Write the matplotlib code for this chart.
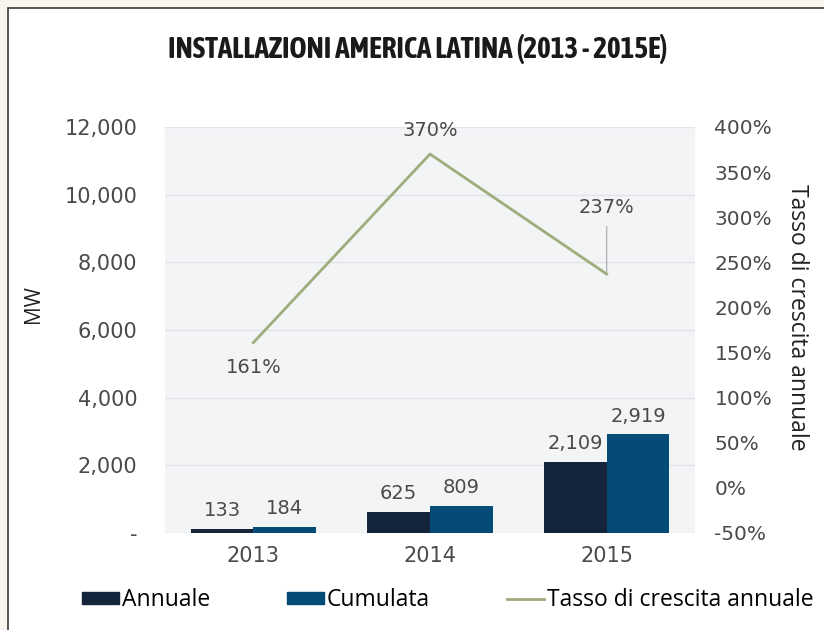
import numpy as np
import matplotlib.pyplot as plt
from matplotlib.patches import Rectangle
from matplotlib.lines import Line2D
from matplotlib.ticker import FuncFormatter
from matplotlib import font_manager
from matplotlib.font_manager import FontProperties

# Dati
anni = ['2013', '2014', '2015']
annuale = [133, 625, 2109]
cumulata = [184, 809, 2919]
tasso = [161, 370, 237]  # %

COL_ANN = '#14243a'
COL_CUM = '#044b76'
COL_LINE = '#9fac7b'
COL_TXT = '#4a4a4a'


def font_stretto():
    """Cerca un font condensato/narrow in grassetto, se installato."""
    cand = []
    for f in font_manager.fontManager.ttflist:
        st = str(f.stretch).lower()
        if 'narrow' in f.name.lower() or 'condensed' in f.name.lower() or 'condensed' in st:
            w = f.weight if isinstance(f.weight, int) else (700 if 'bold' in str(f.weight) else 400)
            cand.append((abs(w - 700), f.name, f.fname))
    if not cand:
        return None
    cand.sort()
    return cand[0][2]


fig = plt.figure(figsize=(8.24, 6.30), dpi=100)
fig.patch.set_facecolor('#f8f4ee')

# pannello bianco con bordo
pannello = Rectangle((8 / 824, -0.01), 1.0, 1 - 8 / 630 + 0.01,
                     transform=fig.transFigure, facecolor='white',
                     edgecolor='#3a3a3a', linewidth=1.2, zorder=-10)
fig.add_artist(pannello)

titolo = 'INSTALLAZIONI AMERICA LATINA (2013 - 2015E)'
fn = font_stretto()
if fn:
    fp = FontProperties(fname=fn, size=21, weight='bold')
else:
    fp = FontProperties(family='DejaVu Sans', size=13.5, weight='bold')
fig.text(0.507, 0.922, titolo, ha='center', va='center', fontproperties=fp, color='#1a1a1a')

ax = fig.add_axes([165 / 824, 1 - 533 / 630, 530 / 824, 406 / 630])
ax.set_facecolor('#f3f4f6')
for s in ax.spines.values():
    s.set_visible(False)

x = np.arange(len(anni))
w = 0.355
b1 = ax.bar(x - w / 2, annuale, w, color=COL_ANN, zorder=3)
b2 = ax.bar(x + w / 2, cumulata, w, color=COL_CUM, zorder=3)

ax.set_xlim(-0.5, 2.5)
ax.set_ylim(0, 12000)
ax.set_yticks(np.arange(0, 12001, 2000))
ax.yaxis.set_major_formatter(FuncFormatter(lambda v, p: '-' if v == 0 else f'{int(v):,}'))
ax.set_xticks(x)
ax.set_xticklabels(anni)
ax.tick_params(axis='y', length=0, labelsize=15, colors=COL_TXT, pad=20)
ax.tick_params(axis='x', length=0, labelsize=15, colors=COL_TXT, pad=9)
ax.grid(axis='y', color='#e3e4e7', linewidth=1, zorder=0)
ax.set_axisbelow(True)
ax.set_ylabel('MW', fontsize=15, family='Open Sans', color='#222222', va='center')
ax.yaxis.set_label_coords(-0.249, 0.564)

for bars, vals in ((b1, annuale), (b2, cumulata)):
    for r, v in zip(bars, vals):
        ax.annotate(f'{v:,}', (r.get_x() + r.get_width() / 2, v), xytext=(0, 13),
                    textcoords='offset points', ha='center', va='center',
                    fontsize=14, color=COL_TXT, zorder=5)

ax2 = ax.twinx()
ax2.set_ylim(-50, 400)
ax2.set_yticks(np.arange(-50, 401, 50))
ax2.yaxis.set_major_formatter(FuncFormatter(lambda v, p: f'{int(v)}%'))
ax2.tick_params(length=0, labelsize=14.5, colors=COL_TXT, pad=14)
for s in ax2.spines.values():
    s.set_visible(False)
ax2.plot(x, tasso, color=COL_LINE, linewidth=2, zorder=4)
ax2.set_ylabel('Tasso di crescita annuale', fontsize=16.5, family='Open Sans',
               color='#222222', rotation=270, va='center')
ax2.yaxis.set_label_coords(1.192, 0.532)

# etichette tasso
ax2.annotate(f'{tasso[0]}%', (x[0], tasso[0]), xytext=(0, -18), textcoords='offset points',
             ha='center', va='center', fontsize=14, color=COL_TXT)
ax2.annotate(f'{tasso[1]}%', (x[1], tasso[1]), xytext=(0, 17), textcoords='offset points',
             ha='center', va='center', fontsize=14, color=COL_TXT)
ax2.annotate(f'{tasso[2]}%', (x[2], tasso[2]), xytext=(0, 48), textcoords='offset points',
             ha='center', va='center', fontsize=14, color=COL_TXT,
             arrowprops=dict(arrowstyle='-', color='#b5b5b5', lw=1, shrinkA=5, shrinkB=1))

handles = [Rectangle((0, 0), 1, 1, color=COL_ANN),
           Rectangle((0, 0), 1, 1, color=COL_CUM),
           Line2D([0], [0], color=COL_LINE, lw=2)]
fig.legend(handles, ['Annuale', 'Cumulata', 'Tasso di crescita annuale'],
           loc='center left', bbox_to_anchor=(82 / 824, 1 - 600 / 630), ncol=3, frameon=False,
           borderpad=0, borderaxespad=0, handlelength=1.62, handleheight=0.43,
           handletextpad=0.12, columnspacing=3.35,
           prop={'family': ['Open Sans', 'DejaVu Sans'], 'size': 16.5})

fig.savefig('out.png', dpi=100)
